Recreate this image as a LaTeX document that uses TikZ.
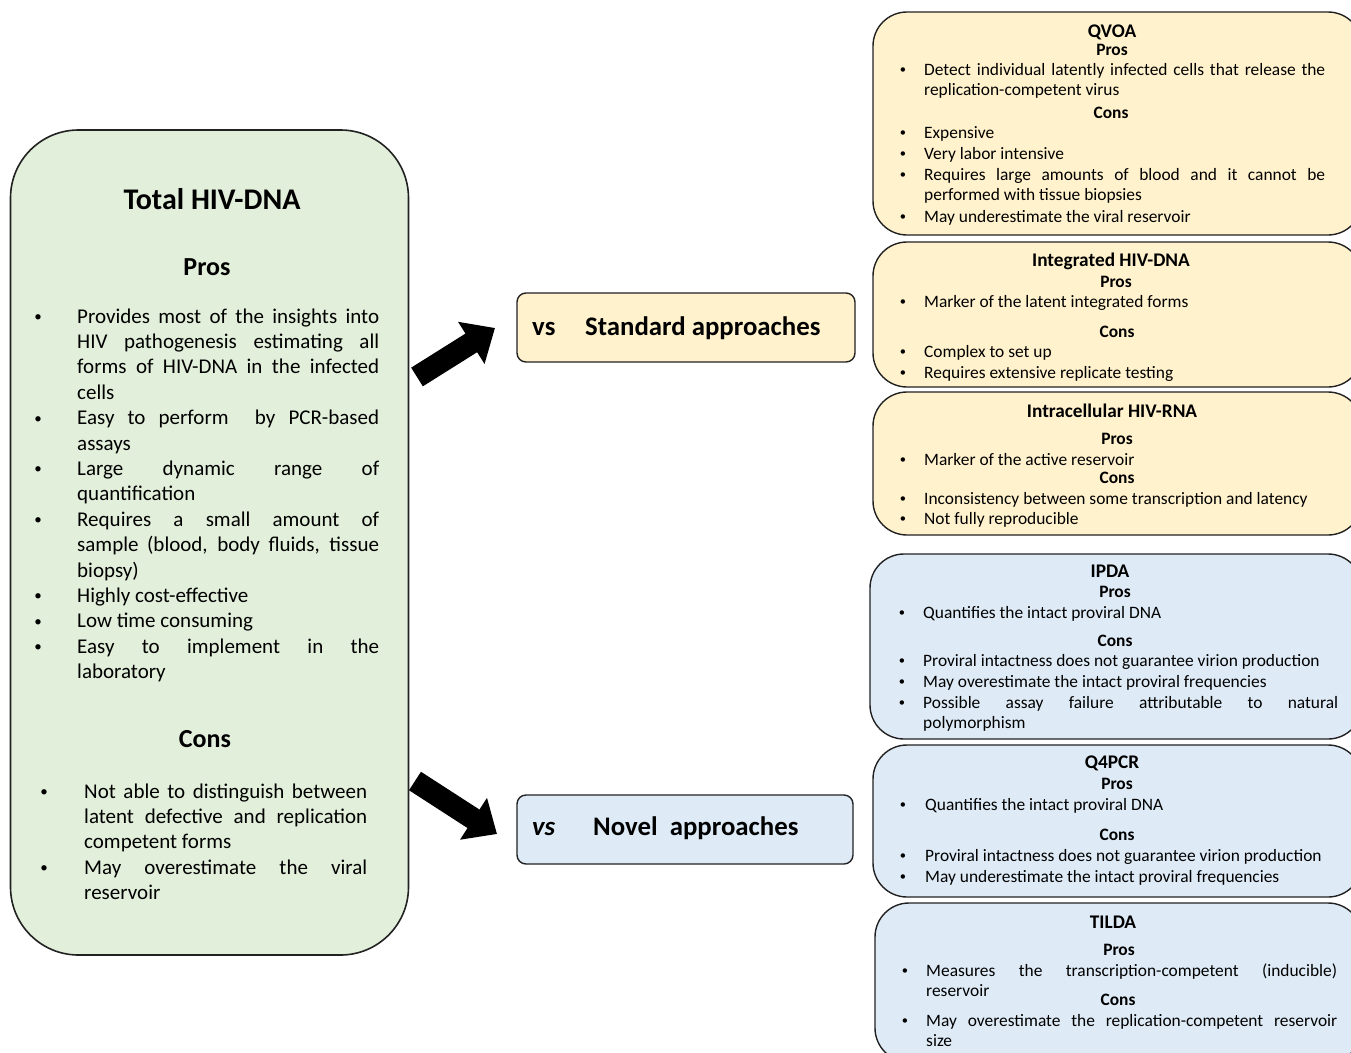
\documentclass[tikz,border=0pt]{standalone}
\usepackage{fontspec}
\setmainfont{Carlito}
\usetikzlibrary{arrows.meta}
\definecolor{greenfill}{HTML}{E2EFDA}
\definecolor{yellowfill}{HTML}{FFF2CC}
\definecolor{bluefill}{HTML}{DEEBF7}
\definecolor{edgecol}{HTML}{222222}
\hyphenpenalty=10000
\tolerance=10000
\tikzset{
  boxbase/.style={draw=edgecol, line width=1.6pt},
  bigbox/.style={boxbase, fill=greenfill, rounded corners=68pt, minimum width=398pt, minimum height=825pt, inner sep=0pt},
  rbox/.style={boxbase, line width=1.4pt, rounded corners=34pt, inner sep=0pt},
  vsbox/.style={boxbase, line width=1.4pt, rounded corners=9pt, minimum height=69pt, inner sep=0pt},
  ltitle/.style={font=\fontsize{30}{36}\selectfont\bfseries, anchor=base, inner sep=0pt},
  lhead/.style={font=\fontsize{26}{31}\selectfont\bfseries, anchor=base, inner sep=0pt},
  ltext/.style={font=\fontsize{21}{25.4}\selectfont, anchor=base west, inner sep=0pt, align=justify},
  lbul/.style={font=\fontsize{15}{18}\selectfont, anchor=base, inner sep=0pt, yshift=1.5pt},
  vstext/.style={font=\fontsize{26.8}{32}\selectfont\bfseries, anchor=base west, inner sep=0pt},
  rtitle/.style={font=\fontsize{19.3}{23}\selectfont\bfseries, anchor=base, inner sep=0pt},
  rhead/.style={font=\fontsize{17.4}{20.8}\selectfont\bfseries, anchor=base, inner sep=0pt},
  rtext/.style={font=\fontsize{17.4}{20.8}\selectfont, anchor=base west, inner sep=0pt, align=justify},
  rbul/.style={font=\fontsize{12.5}{15}\selectfont, anchor=base, inner sep=0pt, yshift=1.2pt},
  fatarrow/.style={line width=22pt, -{Triangle[length=28pt, width=48pt]}},
}
\begin{document}
\begin{tikzpicture}[x=1pt,y=-1pt]
\useasboundingbox (0,0) rectangle (1351,1052);
\clip (0,0) rectangle (1351,1052);

% ---------- left box ----------
\node[bigbox] (total) at (209.5,542.5) {};
\node[ltitle] (ttitle) at (212,209) {Total HIV-DNA};
\node[lhead] (tpros) at (207,275) {Pros};
\node[lbul] (lb1) at (38,323) {•};
\node[ltext, text width=302pt] (lt1) at (77,323) {Provides most of the insights into\linebreak HIV pathogenesis estimating all\linebreak forms of HIV-DNA in the infected\linebreak cells};
\node[lbul] (lb2) at (38,424.6) {•};
\node[ltext, text width=302pt] (lt2) at (77,424.6) {Easy to perform\ \ by PCR-based\linebreak assays};
\node[lbul] (lb3) at (38,475.4) {•};
\node[ltext, text width=302pt] (lt3) at (77,475.4) {Large dynamic range of\linebreak quantification};
\node[lbul] (lb4) at (38,526.2) {•};
\node[ltext, text width=302pt] (lt4) at (77,526.2) {Requires a small amount of\linebreak sample (blood, body fluids, tissue\linebreak biopsy)};
\node[lbul] (lb5) at (38,602.4) {•};
\node[ltext, text width=302pt] (lt5) at (77,602.4) {Highly cost-effective};
\node[lbul] (lb6) at (38,627.8) {•};
\node[ltext, text width=302pt] (lt6) at (77,627.8) {Low time consuming};
\node[lbul] (lb7) at (38,653.2) {•};
\node[ltext, text width=302pt] (lt7) at (77,653.2) {Easy to implement in the\linebreak laboratory};
\node[lhead] (tcons) at (205,747) {Cons};
\node[lbul] (lc1) at (44,798) {•};
\node[ltext, text width=283pt] (lct1) at (84,798) {Not able to distinguish between\linebreak latent defective and replication\linebreak competent forms};
\node[lbul] (lc2) at (44,874.2) {•};
\node[ltext, text width=283pt] (lct2) at (84,874.2) {May overestimate the viral\linebreak reservoir};

% ---------- vs boxes ----------
\node[vsbox, fill=yellowfill, minimum width=338pt] (std) at (686,327.5) {};
\node[vstext] (stdvs) at (532,335) {vs};
\node[vstext] (stdtx) at (585,335) {Standard approaches};
\node[vsbox, fill=bluefill, minimum width=336pt] (nov) at (685,829.5) {};
\node[vstext, font=\fontsize{26.8}{32}\selectfont\bfseries\itshape] (novvs) at (532,835) {vs};
\node[vstext] (novtx) at (593,835) {Novel\ \ approaches};

% ---------- arrows ----------
\coordinate (a1s) at (417,377);
\coordinate (a1e) at (495,328);
\coordinate (a2s) at (415,781);
\coordinate (a2e) at (497,834);
\draw[fatarrow] (a1s) -- (a1e);
\draw[fatarrow] (a2s) -- (a2e);

% ---------- QVOA ----------
\node[rbox, fill=yellowfill, minimum width=489pt, minimum height=223pt] (qvoa) at (1117.5,123.5) {};
\node[rtitle] (qvoat) at (1112,37) {QVOA};
\node[rhead] (qvoap) at (1112,55) {Pros};
\node[rbul] (qb1) at (903,75) {•};
\node[rtext, text width=401pt] (qt1) at (924,75) {Detect individual latently infected cells that release the\linebreak replication-competent virus};
\node[rhead] (qvoac) at (1111,118) {Cons};
\node[rbul] (qb2) at (903,138) {•};
\node[rtext, text width=401pt] (qt2) at (924,138) {Expensive};
\node[rbul] (qb3) at (903,159) {•};
\node[rtext, text width=401pt] (qt3) at (924,159) {Very labor intensive};
\node[rbul] (qb4) at (903,180) {•};
\node[rtext, text width=401pt] (qt4) at (924,180) {Requires large amounts of blood and it cannot be\linebreak performed with tissue biopsies};
\node[rbul] (qb5) at (903,222) {•};
\node[rtext, text width=401pt] (qt5) at (924,222) {May underestimate the viral reservoir};

% ---------- Integrated HIV-DNA ----------
\node[rbox, fill=yellowfill, minimum width=489pt, minimum height=145pt] (integ) at (1117.5,314.5) {};
\node[rtitle] (integt) at (1111,266) {Integrated HIV-DNA};
\node[rhead] (integp) at (1116,287) {Pros};
\node[rbul] (ib1) at (903,307) {•};
\node[rtext, text width=401pt] (it1) at (924,307) {Marker of the latent integrated forms};
\node[rhead] (integc) at (1117,337) {Cons};
\node[rbul] (ib2) at (903,357) {•};
\node[rtext, text width=401pt] (it2) at (924,357) {Complex to set up};
\node[rbul] (ib3) at (903,378) {•};
\node[rtext, text width=401pt] (it3) at (924,378) {Requires extensive replicate testing};

% ---------- Intracellular HIV-RNA ----------
\node[rbox, fill=yellowfill, minimum width=489pt, minimum height=143pt] (intra) at (1117.5,463.5) {};
\node[rtitle] (intrat) at (1112,417) {Intracellular HIV-RNA};
\node[rhead] (intrap) at (1117,444) {Pros};
\node[rbul] (rb1) at (903,465) {•};
\node[rtext, text width=401pt] (rt1) at (924,465) {Marker of the active reservoir};
\node[rhead] (intrac) at (1117,483) {Cons};
\node[rbul] (rb2) at (903,504) {•};
\node[rtext, text width=401pt] (rt2) at (924,504) {Inconsistency between some transcription and latency};
\node[rbul] (rb3) at (903,524) {•};
\node[rtext, text width=401pt] (rt3) at (924,524) {Not fully reproducible};

% ---------- IPDA ----------
\node[rbox, fill=bluefill, minimum width=492pt, minimum height=185pt] (ipda) at (1116,646.5) {};
\node[rtitle] (ipdat) at (1110,577) {IPDA};
\node[rhead] (ipdap) at (1115,597) {Pros};
\node[rbul] (pb1) at (902,618) {•};
\node[rtext, text width=415pt] (pt1) at (923,618) {Quantifies the intact proviral DNA};
\node[rhead] (ipdac) at (1115,646) {Cons};
\node[rbul] (pb2) at (902,666) {•};
\node[rtext, text width=415pt] (pt2) at (923,666) {Proviral intactness does not guarantee virion production};
\node[rbul] (pb3) at (902,687) {•};
\node[rtext, text width=415pt] (pt3) at (923,687) {May overestimate the intact proviral frequencies};
\node[rbul] (pb4) at (902,708) {•};
\node[rtext, text width=415pt] (pt4) at (923,708) {Possible assay failure attributable to natural\linebreak polymorphism};

% ---------- Q4PCR ----------
\node[rbox, fill=bluefill, minimum width=489pt, minimum height=152pt] (q4) at (1117.5,821) {};
\node[rtitle] (q4t) at (1112,768) {Q4PCR};
\node[rhead] (q4p) at (1117,789) {Pros};
\node[rbul] (fb1) at (903,810) {•};
\node[rtext, text width=401pt] (ft1) at (925,810) {Quantifies the intact proviral DNA};
\node[rhead] (q4c) at (1117,840) {Cons};
\node[rbul] (fb2) at (903,861) {•};
\node[rtext, text width=401pt] (ft2) at (925,861) {Proviral intactness does not guarantee virion production};
\node[rbul] (fb3) at (903,882) {•};
\node[rtext, text width=401pt] (ft3) at (925,882) {May underestimate the intact proviral frequencies};

% ---------- TILDA ----------
\node[rbox, fill=bluefill, minimum width=487pt, minimum height=159pt] (tilda) at (1118.5,982.5) {};
\node[rtitle] (tildat) at (1113,928) {TILDA};
\node[rhead] (tildap) at (1119,955) {Pros};
\node[rbul] (db1) at (905,976) {•};
\node[rtext, text width=411pt] (dt1) at (926,976) {Measures the transcription-competent (inducible)\linebreak reservoir};
\node[rhead] (tildac) at (1118,1005) {Cons};
\node[rbul] (db2) at (905,1026) {•};
\node[rtext, text width=411pt] (dt2) at (926,1026) {May overestimate the replication-competent reservoir\linebreak size};
\end{tikzpicture}
\end{document}
